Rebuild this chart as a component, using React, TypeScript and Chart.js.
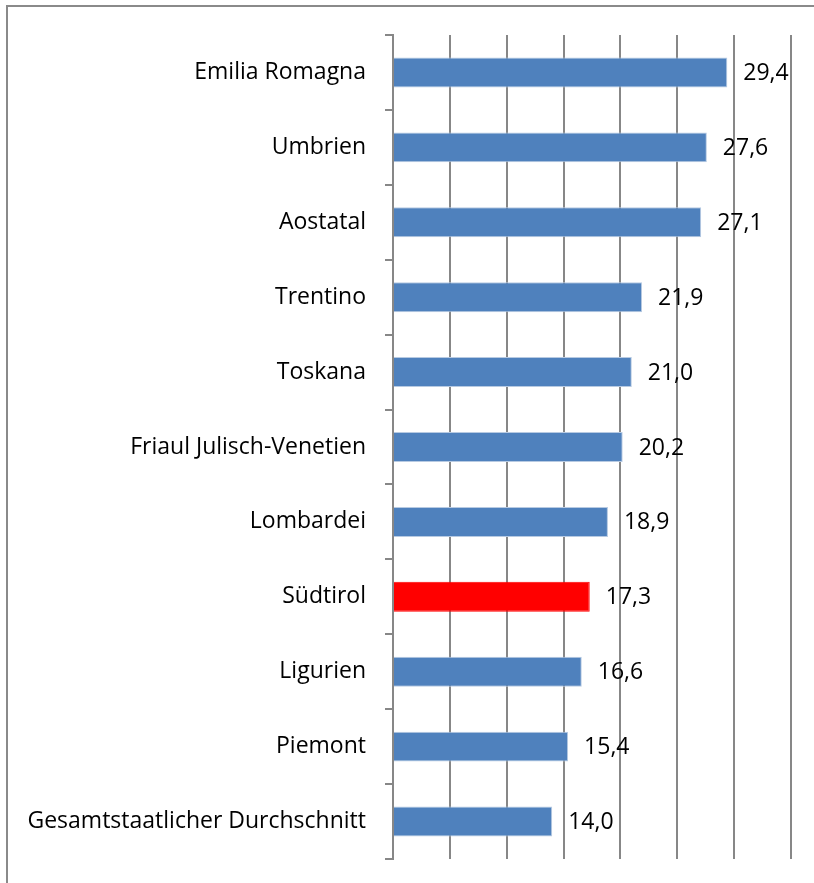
import React, { useEffect, useRef } from "react";
import { Chart, registerables } from "chart.js";

Chart.register(...registerables);

const categories = [
  "Emilia Romagna",
  "Umbrien",
  "Aostatal",
  "Trentino",
  "Toskana",
  "Friaul Julisch-Venetien",
  "Lombardei",
  "Südtirol",
  "Ligurien",
  "Piemont",
  "Gesamtstaatlicher Durchschnitt",
];
const values = [29.4, 27.6, 27.1, 21.9, 21.0, 20.2, 18.9, 17.3, 16.6, 15.4, 14.0];
const highlight = "Südtirol";
const xMin = 0;
const xMax = 35;
const xStep = 5;

const BLUE = "#4F81BD";
const RED = "#FF0000";
const GRID = "#878787";
const FONT = "'Open Sans', sans-serif";
const FONT_SIZE = 23;

const labelPlugin = {
  id: "valueLabels",
  afterDatasetsDraw(chart: any) {
    const ctx = chart.ctx;
    const meta = chart.getDatasetMeta(0);
    ctx.save();
    ctx.font = `${FONT_SIZE}px ${FONT}`;
    ctx.fillStyle = "#000";
    ctx.textAlign = "left";
    ctx.textBaseline = "middle";
    meta.data.forEach((el: any, i: number) => {
      const v = values[i];
      ctx.fillText(v.toFixed(1).replace(".", ","), el.x + 16, el.y + 1);
    });
    ctx.restore();
  },
};

const framePlugin = {
  id: "frame",
  beforeDraw(chart: any) {
    const ctx = chart.ctx;
    ctx.save();
    ctx.fillStyle = "#fff";
    ctx.fillRect(0, 0, chart.width, chart.height);
    ctx.strokeStyle = "#8a8a8a";
    ctx.lineWidth = 2;
    ctx.beginPath();
    ctx.moveTo(7, chart.height);
    ctx.lineTo(7, 6);
    ctx.lineTo(chart.width, 6);
    ctx.stroke();
    ctx.restore();
  },
};

export default function App() {
  const ref = useRef<HTMLCanvasElement>(null);
  useEffect(() => {
    if (!ref.current) return;
    const chart = new Chart(ref.current, {
      type: "bar",
      data: {
        labels: categories,
        datasets: [
          {
            data: values,
            backgroundColor: categories.map((c) => (c === highlight ? RED : BLUE)),
            borderColor: categories.map((c) => (c === highlight ? RED : "#B7CAE2")),
            borderWidth: 1,
            categoryPercentage: 1,
            barPercentage: 0.4,
          },
        ],
      },
      options: {
        indexAxis: "y",
        animation: false,
        responsive: false,
        layout: { padding: { left: 0, right: 23, top: 35, bottom: 24 } },
        plugins: { legend: { display: false }, tooltip: { enabled: false } },
        scales: {
          x: {
            min: xMin,
            max: xMax,
            ticks: { display: false, stepSize: xStep },
            grid: { color: GRID, lineWidth: 2, drawTicks: false },
            border: { display: false },
            afterFit: (s: any) => {
              s.height = 0;
              s.paddingLeft = 0;
              s.paddingRight = 0;
            },
          },
          y: {
            ticks: {
              color: "#000",
              font: { family: FONT, size: FONT_SIZE },
              padding: 19,
            },
            grid: {
              offset: true,
              drawOnChartArea: false,
              drawTicks: true,
              tickLength: 8,
              color: GRID,
              lineWidth: 2,
            },
            border: { display: true, color: GRID, width: 2 },
            afterFit: (s: any) => {
              s.width = 393;
              s.paddingTop = 0;
              s.paddingBottom = 0;
            },
          },
        },
      },
      plugins: [framePlugin, labelPlugin],
    });
    return () => chart.destroy();
  }, []);
  return (
    <div style={{ position: "absolute", left: 0, top: 0, width: 814, height: 883 }}>
      <canvas ref={ref} width={814} height={883} style={{ width: 814, height: 883, display: "block" }} />
    </div>
  );
}
